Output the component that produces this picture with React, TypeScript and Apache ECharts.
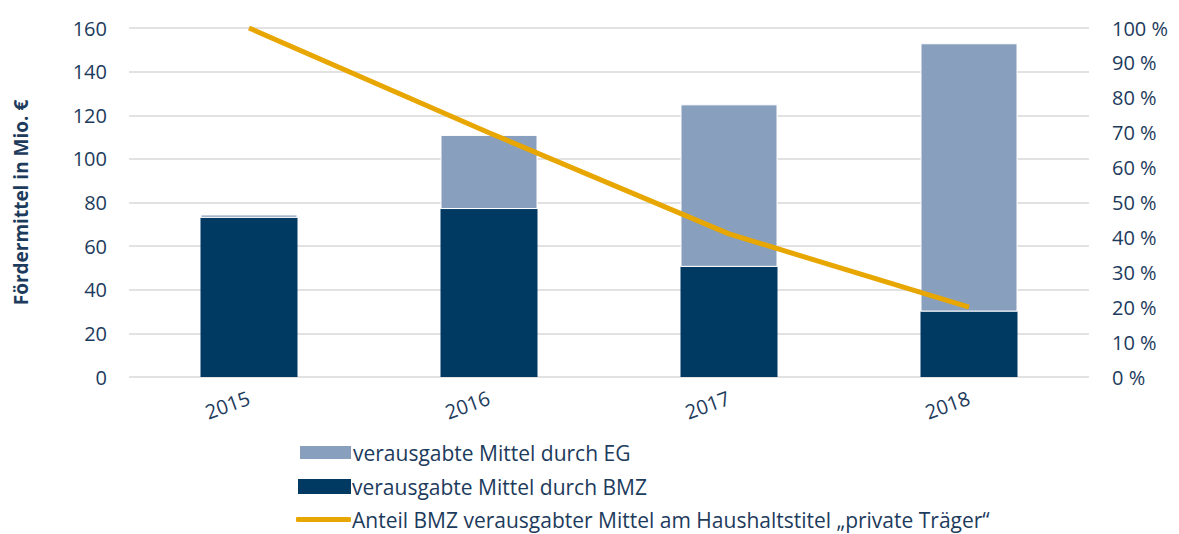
import React, { useEffect, useRef } from "react";
import * as echarts from "echarts";

const years = ["2015", "2016", "2017", "2018"];
const bmzValues = [73, 77, 50.5, 30];
const egValues = [1.5, 34, 74.5, 123];
const shareValues = [100, 70, 41, 20];
const seriesNames = [
  "verausgabte Mittel durch EG",
  "verausgabte Mittel durch BMZ",
  "Anteil BMZ verausgabter Mittel am Haushaltstitel „private Träger“",
];

const textColor = "#1d3b5c";
const font = "Open Sans";

export default function App() {
  const ref = useRef<HTMLDivElement>(null);
  useEffect(() => {
    const chart = echarts.init(ref.current!, null, { renderer: "svg" });
    const legendText = { fontSize: 21, color: textColor, fontFamily: font, padding: [0, 0, 0, -4] };
    chart.setOption({
      animation: false,
      textStyle: { fontFamily: font, color: textColor },
      grid: { left: 129, right: 90, top: 28, bottom: 157 },
      legend: [
        {
          left: 298,
          top: 442,
          padding: 0,
          itemWidth: 53,
          itemHeight: 15,
          textStyle: legendText,
          data: [{ name: seriesNames[0], icon: "rect" }],
        },
        {
          left: 298,
          top: 476,
          padding: 0,
          itemWidth: 53,
          itemHeight: 15,
          textStyle: legendText,
          data: [{ name: seriesNames[1], icon: "rect" }],
        },
        {
          left: 296,
          top: 509,
          padding: 0,
          itemWidth: 55,
          itemHeight: 5,
          textStyle: legendText,
          data: [{ name: seriesNames[2], icon: "roundRect" }],
        },
      ],
      xAxis: {
        type: "category",
        data: years,
        axisLine: { show: false },
        axisTick: { show: false },
        axisLabel: { rotate: 20, fontSize: 20, color: textColor, margin: 20, fontFamily: font },
      },
      yAxis: [
        {
          type: "value",
          min: 0,
          max: 160,
          interval: 20,
          name: "Fördermittel in Mio. €",
          nameLocation: "middle",
          nameGap: 99,
          nameRotate: 90,
          nameTextStyle: { fontSize: 19, fontWeight: "bold", color: textColor, fontFamily: font },
          axisLabel: { fontSize: 20, color: textColor, margin: 22, fontFamily: font },
          splitLine: { lineStyle: { color: "#d9d9d9", width: 1.5 } },
          axisLine: { show: false },
          axisTick: { show: false },
        },
        {
          type: "value",
          min: 0,
          max: 100,
          interval: 10,
          axisLabel: { formatter: "{value} %", fontSize: 20, color: textColor, margin: 23, fontFamily: font },
          splitLine: { show: false },
          axisLine: { show: false },
          axisTick: { show: false },
        },
      ],
      series: [
        {
          name: seriesNames[1],
          type: "bar",
          stack: "total",
          data: bmzValues,
          barWidth: 97,
          itemStyle: { color: "#003a63" },
        },
        {
          name: seriesNames[0],
          type: "bar",
          stack: "total",
          data: egValues,
          barWidth: 97,
          itemStyle: { color: "#889fbd", borderColor: "#ffffff", borderWidth: 1 },
        },
        {
          name: seriesNames[2],
          type: "line",
          yAxisIndex: 1,
          data: shareValues,
          symbol: "none",
          lineStyle: { color: "#e8a600", width: 5 },
          itemStyle: { color: "#e8a600" },
        },
      ],
    });
    return () => chart.dispose();
  }, []);
  return <div ref={ref} style={{ width: 1179, height: 534, position: "absolute", left: 0, top: 0 }} />;
}
